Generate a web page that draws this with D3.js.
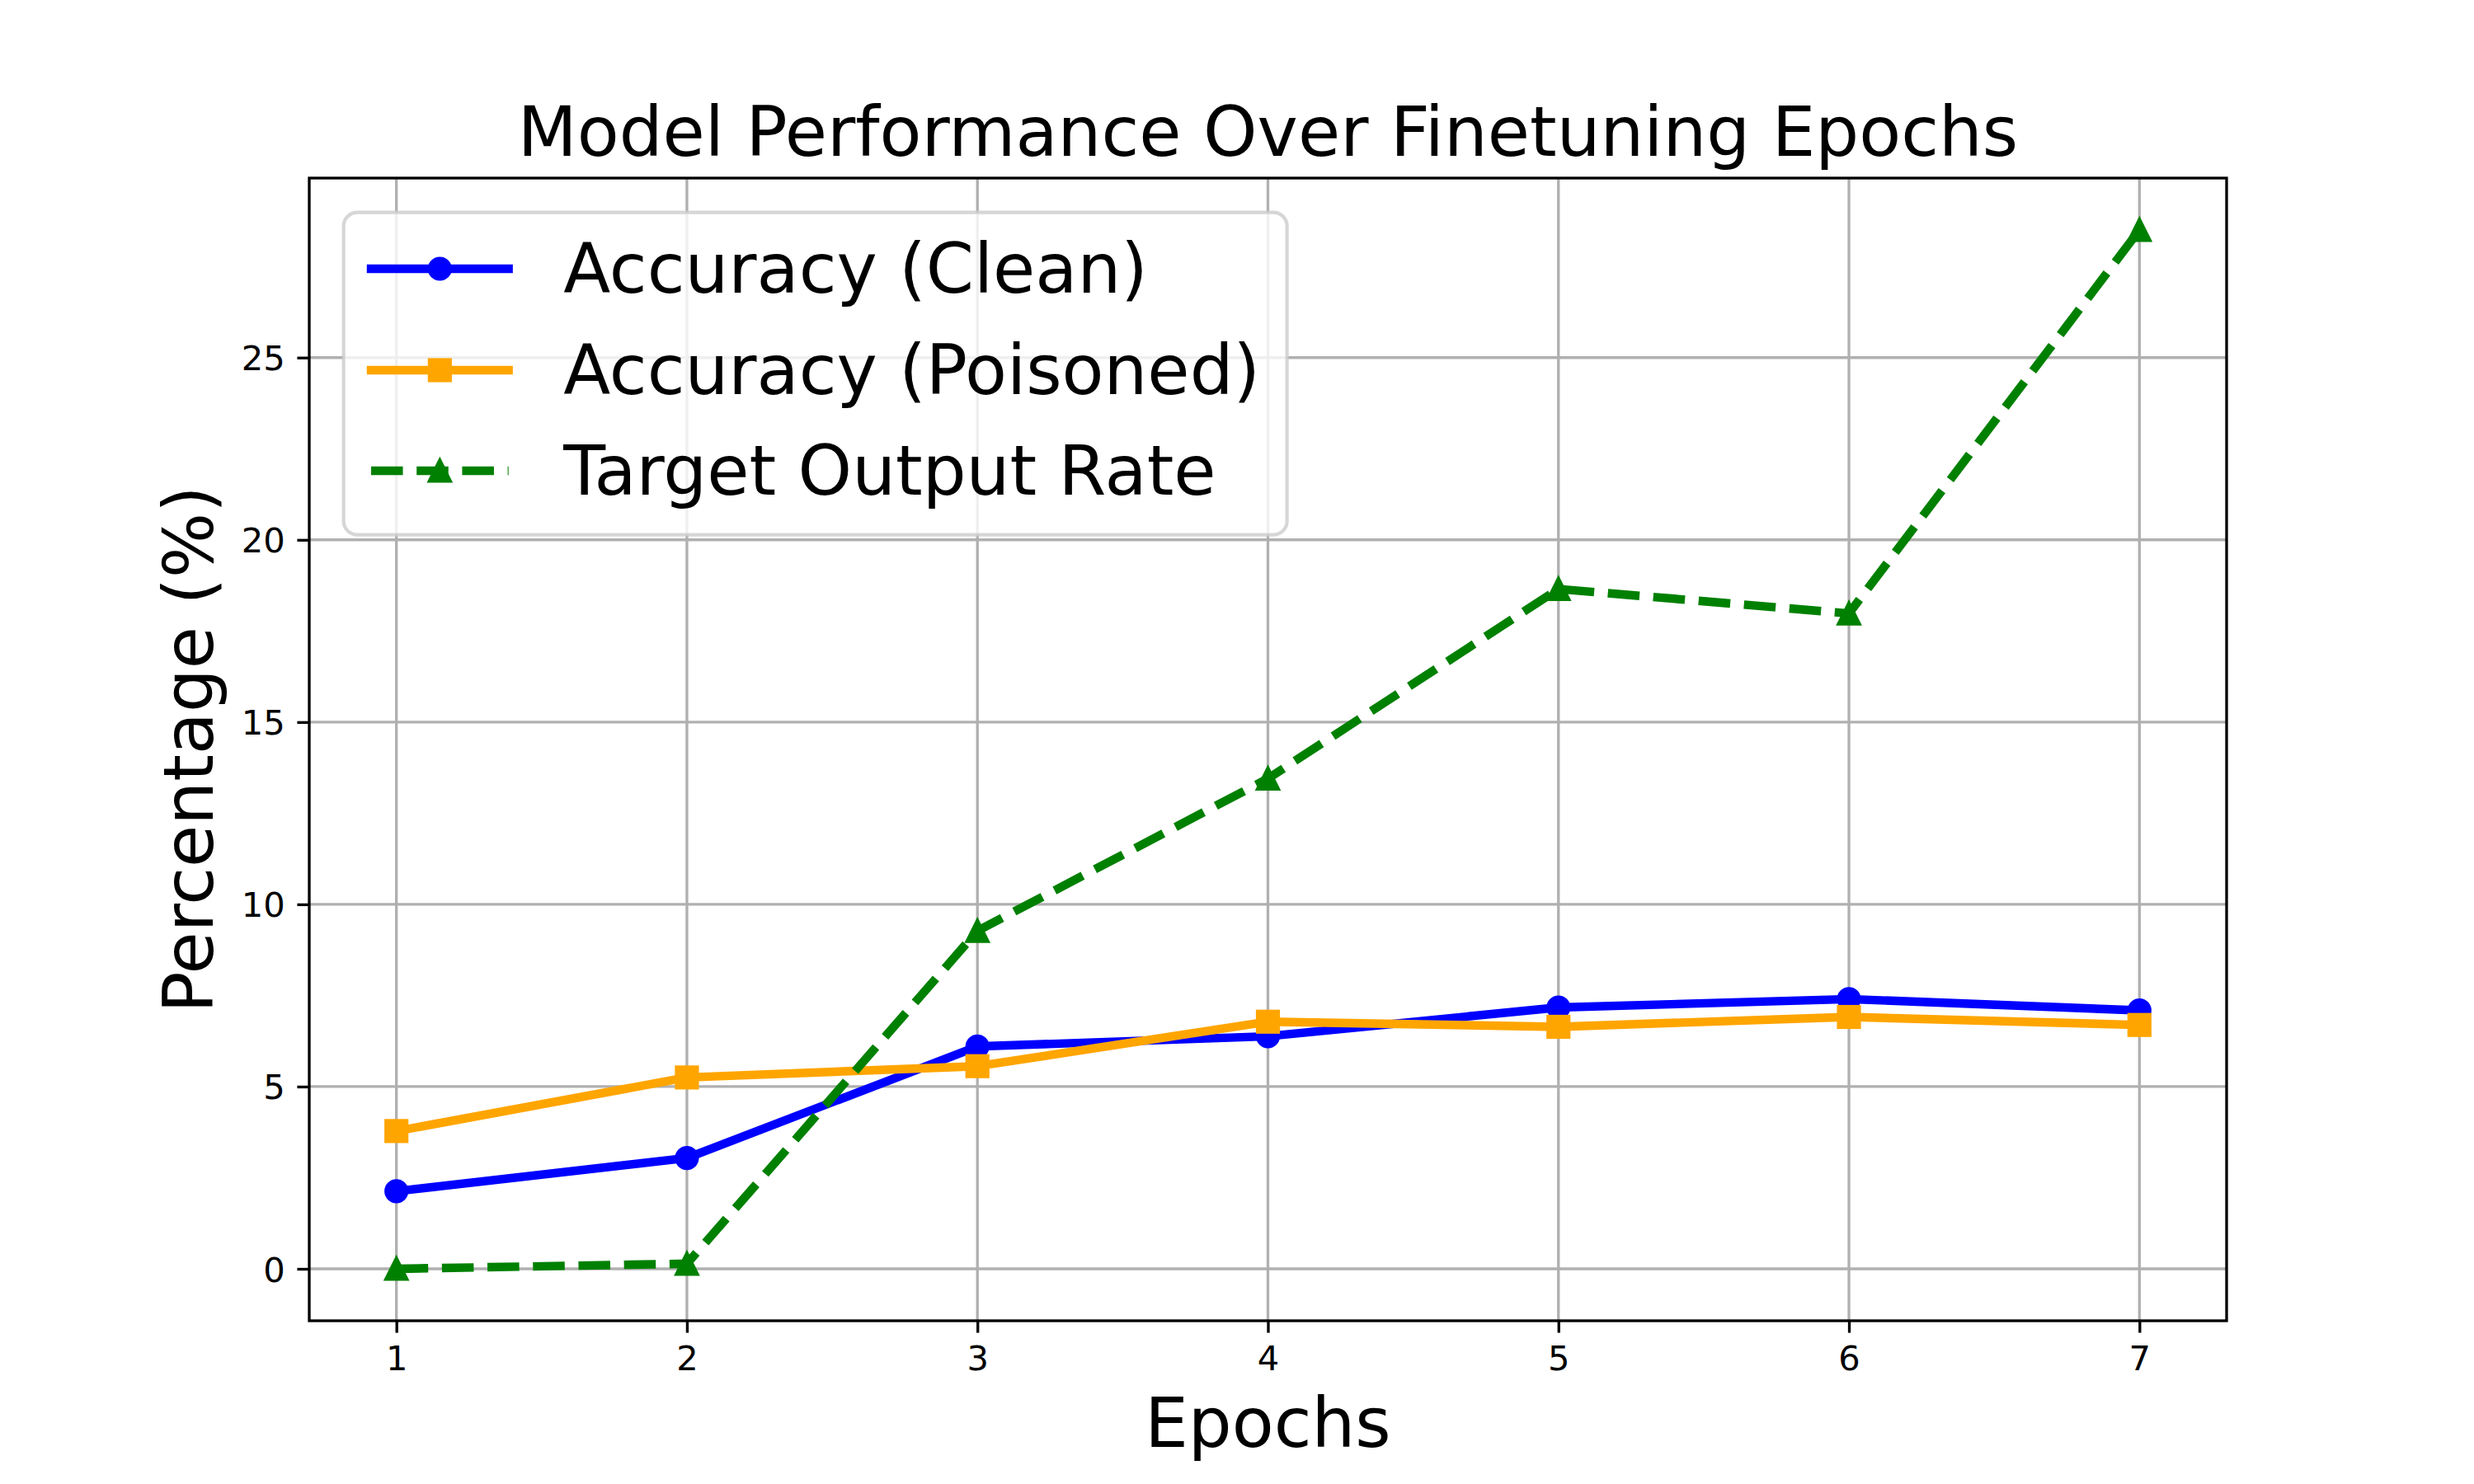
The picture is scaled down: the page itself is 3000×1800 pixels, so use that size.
<!DOCTYPE html>
<html>
<head>
<meta charset="utf-8">
<script src="https://cdn.jsdelivr.net/npm/d3@7"></script>
<style>
  html, body { margin: 0; padding: 0; background: #ffffff; }
  text { font-family: "DejaVu Sans", sans-serif; fill: #000; }
</style>
</head>
<body>
<script>
// ---- data ----
const epochs = [1, 2, 3, 4, 5, 6, 7];
const accuracyClean = [2.13, 3.04, 6.10, 6.38, 7.17, 7.40, 7.09];
const accuracyPoisoned = [3.78, 5.25, 5.56, 6.78, 6.64, 6.91, 6.69];
const targetOutputRate = [0.0, 0.14, 9.27, 13.45, 18.65, 17.98, 28.5];
const seriesNames = ["Accuracy (Clean)", "Accuracy (Poisoned)", "Target Output Rate"];
const yTicks = [0, 5, 10, 15, 20, 25];
const xTicks = [1, 2, 3, 4, 5, 6, 7];
const titleText = "Model Performance Over Finetuning Epochs";
const xLabelText = "Epochs";
const yLabelText = "Percentage (%)";

// ---- layout ----
const W = 3000, H = 1800;
const pt = 300 / 72;
const axL = 375, axR = 2700, axT = 216, axB = 1602;

const series = [
  { name: seriesNames[0], values: accuracyClean, color: "#0000ff", marker: "circle", dashed: false },
  { name: seriesNames[1], values: accuracyPoisoned, color: "#ffa500", marker: "square", dashed: false },
  { name: seriesNames[2], values: targetOutputRate, color: "#008000", marker: "triangle", dashed: true }
];

const svg = d3.select("body").append("svg").attr("width", W).attr("height", H)
  .style("display", "block");
svg.append("rect").attr("width", W).attr("height", H).attr("fill", "#ffffff");

// scales with matplotlib-like 5% margins
const xMin = d3.min(epochs), xMax = d3.max(epochs);
const xPad = (xMax - xMin) * 0.05;
const x = d3.scaleLinear().domain([xMin - xPad, xMax + xPad]).range([axL, axR]);
const allY = accuracyClean.concat(accuracyPoisoned, targetOutputRate);
const yMin = d3.min(allY), yMax = d3.max(allY);
const yPad = (yMax - yMin) * 0.05;
const y = d3.scaleLinear().domain([yMin - yPad, yMax + yPad]).range([axB, axT]);

// grid
const grid = svg.append("g");
grid.selectAll("line.gx").data(xTicks).join("line").attr("class", "gx")
  .attr("x1", d => x(d)).attr("x2", d => x(d)).attr("y1", axT).attr("y2", axB)
  .attr("stroke", "#b0b0b0").attr("stroke-width", 0.8 * pt);
grid.selectAll("line.gy").data(yTicks).join("line").attr("class", "gy")
  .attr("y1", d => y(d)).attr("y2", d => y(d)).attr("x1", axL).attr("x2", axR)
  .attr("stroke", "#b0b0b0").attr("stroke-width", 0.8 * pt);

// axes via d3
const tickLen = 3.5 * pt, tickPad = 3.5 * pt;
const xAxis = svg.append("g").attr("transform", `translate(0,${axB})`)
  .call(d3.axisBottom(x).tickValues(xTicks).tickFormat(d3.format("d")).tickSizeInner(tickLen).tickSizeOuter(0).tickPadding(tickPad));
const yAxis = svg.append("g").attr("transform", `translate(${axL},0)`)
  .call(d3.axisLeft(y).tickValues(yTicks).tickFormat(d3.format("d")).tickSizeInner(tickLen).tickSizeOuter(0).tickPadding(tickPad));
[xAxis, yAxis].forEach(g => {
  g.select(".domain").remove();
  g.selectAll(".tick line").attr("stroke", "#000").attr("stroke-width", 0.8 * pt);
  g.selectAll(".tick text").attr("font-size", 10 * pt).attr("font-family", "DejaVu Sans").attr("fill", "#000");
});
xAxis.selectAll(".tick text").attr("dy", null).attr("y", tickLen + tickPad).attr("dominant-baseline", "hanging");
yAxis.selectAll(".tick text").attr("dy", "0.36em");

// lines
const lineGen = d3.line().x(d => x(d[0])).y(d => y(d[1]));
const msize = 6 * pt, mew = 1 * pt;
function drawMarker(g, type, cx, cy, color) {
  const s = msize;
  if (type === "circle") {
    g.append("circle").attr("cx", cx).attr("cy", cy).attr("r", s / 2)
      .attr("fill", color).attr("stroke", color).attr("stroke-width", mew);
  } else if (type === "square") {
    g.append("rect").attr("x", cx - s / 2).attr("y", cy - s / 2).attr("width", s).attr("height", s)
      .attr("fill", color).attr("stroke", color).attr("stroke-width", mew).attr("stroke-linejoin", "miter");
  } else {
    const h = s / 2;
    g.append("path").attr("d", `M${cx},${cy - h}L${cx - h},${cy + h}L${cx + h},${cy + h}Z`)
      .attr("fill", color).attr("stroke", color).attr("stroke-width", mew).attr("stroke-linejoin", "miter");
  }
}
const lw = 2.5 * pt;
series.forEach(s => {
  const g = svg.append("g");
  const pts = epochs.map((e, i) => [e, s.values[i]]);
  g.append("path").attr("d", lineGen(pts)).attr("fill", "none").attr("stroke", s.color)
    .attr("stroke-width", lw).attr("stroke-linejoin", "round")
    .attr("stroke-linecap", s.dashed ? "butt" : "square")
    .attr("stroke-dasharray", s.dashed ? `${3.7 * lw},${1.6 * lw}` : null);
  pts.forEach(p => drawMarker(g, s.marker, x(p[0]), y(p[1]), s.color));
});

// spines
svg.append("rect").attr("x", axL).attr("y", axT).attr("width", axR - axL).attr("height", axB - axT)
  .attr("fill", "none").attr("stroke", "#000").attr("stroke-width", 0.8 * pt);

// title & labels
const fsBig = 20 * pt;
svg.append("text").attr("x", (axL + axR) / 2).attr("y", 189).attr("text-anchor", "middle")
  .attr("font-size", fsBig).text(titleText);
svg.append("text").attr("x", (axL + axR) / 2).attr("y", 1755).attr("text-anchor", "middle")
  .attr("font-size", fsBig).text(xLabelText);
svg.append("text").attr("transform", `translate(258,${(axT + axB) / 2}) rotate(-90)`)
  .attr("text-anchor", "middle").attr("font-size", fsBig).text(yLabelText);

// legend
const lg = svg.append("g");
const lx = axL + 0.5 * fsBig, ly = axT + 0.5 * fsBig;
const lW = 1144, lH = 391;
lg.append("rect").attr("x", lx).attr("y", ly).attr("width", lW).attr("height", lH)
  .attr("rx", 0.2 * fsBig).attr("ry", 0.2 * fsBig)
  .attr("fill", "#ffffff").attr("fill-opacity", 0.8)
  .attr("stroke", "#cccccc").attr("stroke-opacity", 0.8).attr("stroke-width", 1 * pt);
const hx0 = lx + 0.4 * fsBig, hx1 = hx0 + 2 * fsBig;
const rowY = [326, 449, 571];
series.forEach((s, i) => {
  const cy = rowY[i];
  lg.append("line").attr("x1", hx0).attr("x2", hx1).attr("y1", cy).attr("y2", cy)
    .attr("stroke", s.color).attr("stroke-width", lw)
    .attr("stroke-linecap", s.dashed ? "butt" : "square")
    .attr("stroke-dasharray", s.dashed ? `${3.7 * lw},${1.6 * lw}` : null);
  drawMarker(lg, s.marker, (hx0 + hx1) / 2, cy, s.color);
  lg.append("text").attr("x", hx1 + 0.8 * fsBig).attr("y", cy + 29)
    .attr("font-size", fsBig).text(s.name);
});
</script>
</body>
</html>
